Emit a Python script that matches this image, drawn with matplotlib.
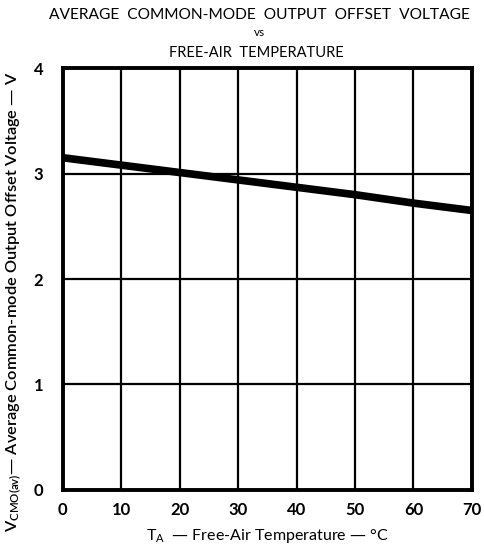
import matplotlib
matplotlib.use("Agg")
import matplotlib.pyplot as plt

# Average common-mode output offset voltage vs free-air temperature
temperature_c = [0, 10, 20, 30, 40, 50, 60, 70]
vcmo_avg_v = [3.15, 3.08, 3.01, 2.94, 2.87, 2.80, 2.72, 2.65]

x_ticks = [0, 10, 20, 30, 40, 50, 60, 70]
y_ticks = [0, 1, 2, 3, 4]

plt.rcParams['font.family'] = ['Lato', 'DejaVu Sans']

fig = plt.figure(figsize=(4.84, 5.45), dpi=100)
ax = fig.add_axes([0.130, 0.101, 0.845, 0.774])

ax.plot(temperature_c, vcmo_avg_v, color='black', linewidth=5.5,
        solid_capstyle='butt', zorder=3)

ax.set_xlim(0, 70)
ax.set_ylim(0, 4)
ax.set_xticks(x_ticks)
ax.set_yticks(y_ticks)
ax.grid(True, color='black', linewidth=1.6)
ax.set_axisbelow(True)
for s in ax.spines.values():
    s.set_linewidth(2.8)
ax.tick_params(length=0, pad=9, labelsize=12)
for lbl in ax.get_xticklabels() + ax.get_yticklabels():
    lbl.set_fontweight('bold')
ax.tick_params(axis='y', pad=14)

fig.text(0.535, 0.972, "AVERAGE  COMMON-MODE  OUTPUT  OFFSET  VOLTAGE",
         ha='center', va='center', fontsize=11.2)
fig.text(0.535, 0.940, "vs", ha='center', va='center', fontsize=8.5)
fig.text(0.530, 0.903, "FREE-AIR  TEMPERATURE",
         ha='center', va='center', fontsize=10.5)

ax.set_xlabel(r"T$_{\mathregular{A}}$  — Free-Air Temperature — °C", fontsize=11.5, labelpad=6)
ax.set_ylabel(r"V$_{\mathregular{CMO(av)}}$— Average Common-mode Output Offset Voltage — V",
              fontsize=11.8, fontweight='semibold')
ax.yaxis.set_label_coords(-0.095, 0.445)

fig.savefig("out.png", dpi=100)
